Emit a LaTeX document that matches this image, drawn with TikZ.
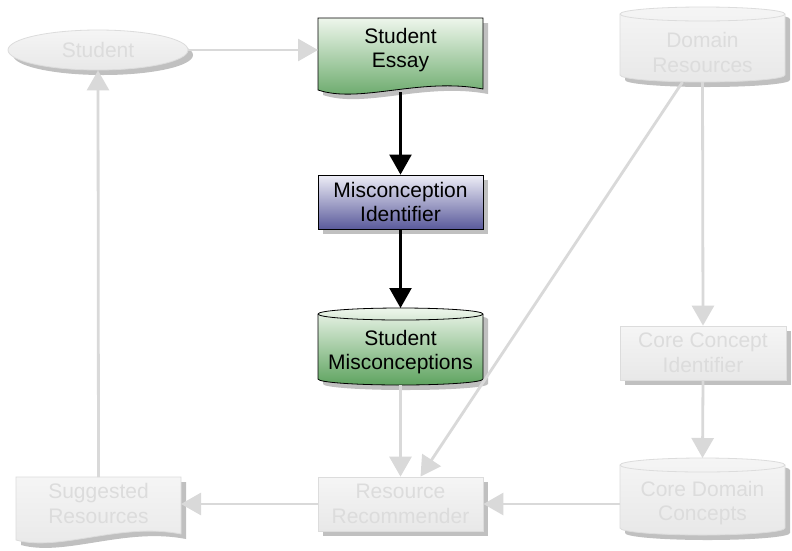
\documentclass[tikz,border=0pt]{standalone}
\usepackage{fontspec}
\setmainfont{Liberation Sans}
\usetikzlibrary{arrows.meta,shadows,calc,shapes.geometric}
\definecolor{gtop}{HTML}{EEF6EC}
\definecolor{gbot}{HTML}{5EA35F}
\definecolor{ptop}{HTML}{EEEEF7}
\definecolor{pbot}{HTML}{5A5A9B}
\definecolor{ftop}{HTML}{F5F5F5}
\definecolor{fbot}{HTML}{E8E8E8}
\definecolor{fline}{HTML}{DCDCDC}
\definecolor{ftext}{HTML}{DCDCDC}
\definecolor{shad}{HTML}{C0C0C0}
\definecolor{arr}{HTML}{D9D9D9}
% cylinder outline: L T R B r
\newcommand\cylp[5]{(#1,#2+#5) -- (#1,#4-#5) .. controls (#1,#4-0.4477*#5) and ({(#1+#3)/2-0.27615*(#3-#1)},#4) .. ({(#1+#3)/2},#4) .. controls ({(#1+#3)/2+0.27615*(#3-#1)},#4) and (#3,#4-0.4477*#5) .. (#3,#4-#5) -- (#3,#2+#5) .. controls (#3,#2+0.4477*#5) and ({(#1+#3)/2+0.27615*(#3-#1)},#2) .. ({(#1+#3)/2},#2) .. controls ({(#1+#3)/2-0.27615*(#3-#1)},#2) and (#1,#2+0.4477*#5) .. (#1,#2+#5) -- cycle}
% front edge of the top cap
\newcommand\cylf[5]{(#1,#2+#5) .. controls (#1,#2+1.5523*#5) and ({(#1+#3)/2-0.27615*(#3-#1)},#2+2*#5) .. ({(#1+#3)/2},#2+2*#5) .. controls ({(#1+#3)/2+0.27615*(#3-#1)},#2+2*#5) and (#3,#2+1.5523*#5) .. (#3,#2+#5)}
\begin{document}
\begin{tikzpicture}[x=1pt,y=-1pt,
  box/.style={rectangle, draw=none, inner sep=0pt, outer sep=0pt},
  txt/.style={font=\fontsize{21}{24.5}\selectfont, align=center, inner sep=0pt},
  faded/.style={top color=ftop, bottom color=fbot, draw=fline, line width=0.8pt},
  greenf/.style={top color=gtop, bottom color=gbot, draw=black, line width=0.8pt},
  purplef/.style={top color=ptop, bottom color=pbot, draw=black, line width=0.8pt},
  shadowed/.style={drop shadow={shadow xshift=5pt, shadow yshift=-5pt, fill=shad, opacity=1, draw=none}},
  garrow/.style={draw=arr, line width=2.8pt, -{Triangle[length=20pt,width=22pt]}},
  barrow/.style={draw=black, line width=2.2pt, -{Triangle[length=20pt,width=22pt]}}]
\fill[white] (0,0) rectangle (792,550);
\useasboundingbox (0,0) rectangle (792,550);

% Student (ellipse)
\node[ellipse, faded, shadowed, minimum width=180pt, minimum height=40pt, txt, text=ftext] (student) at (98,50) {Student};

% Student Essay (document)
\fill[shad, shift={(5,5)}] (318,18) -- (483,18) -- (483,89) .. controls (420,77) and (360,104) .. (318,90) -- cycle;
\path[greenf] (318,18) -- (483,18) -- (483,89) .. controls (420,77) and (360,104) .. (318,90) -- cycle;
\node[box, minimum width=165pt, minimum height=74pt] (ess) at (400.5,55) {};
\node[txt] (esst) at (400.5,50) {Student\\Essay};

% Misconception Identifier
\node[rectangle, purplef, shadowed, minimum width=165pt, minimum height=54pt, txt] (mi) at (400.5,202) {Misconception\\Identifier};

% Student Misconceptions (cylinder)
\fill[shad, shift={(5,5)}] \cylp{318}{308}{483}{385}{6};
\path[greenf] \cylp{318}{308}{483}{385}{6};
\draw[black, line width=0.8pt] \cylf{318}{308}{483}{385}{6};
\node[box, minimum width=165pt, minimum height=77pt] (sm) at (400.5,346.5) {};
\node[txt] (smt) at (400.5,352) {Student\\Misconceptions};

% Domain Resources (cylinder)
\fill[shad, shift={(5,5)}] \cylp{620}{7}{785}{82}{7};
\path[faded] \cylp{620}{7}{785}{82}{7};
\draw[fline, line width=0.8pt] \cylf{620}{7}{785}{82}{7};
\node[box, minimum width=165pt, minimum height=75pt] (dr) at (702.5,44.5) {};
\node[txt, text=ftext] (drt) at (702.5,52.5) {Domain\\Resources};

% Core Concept Identifier
\node[rectangle, faded, shadowed, minimum width=166pt, minimum height=54pt, txt, text=ftext] (cci) at (703,353) {Core Concept\\Identifier};

% Core Domain Concepts (cylinder)
\fill[shad, shift={(5,5)}] \cylp{620}{458}{785}{535}{7};
\path[faded] \cylp{620}{458}{785}{535}{7};
\draw[fline, line width=0.8pt] \cylf{620}{458}{785}{535}{7};
\node[box, minimum width=165pt, minimum height=77pt] (cdc) at (702.5,496.5) {};
\node[txt, text=ftext] (cdct) at (702.5,503) {Core Domain\\Concepts};

% Resource Recommender
\node[rectangle, faded, shadowed, minimum width=165pt, minimum height=54pt, txt, text=ftext] (rr) at (400.5,504) {Resource\\Recommender};

% Suggested Resources (document)
\fill[shad, shift={(5,5)}] (16,477) -- (181,477) -- (181,534) .. controls (120,522) and (60,552) .. (16,540) -- cycle;
\path[faded] (16,477) -- (181,477) -- (181,534) .. controls (120,522) and (60,552) .. (16,540) -- cycle;
\node[box, minimum width=165pt, minimum height=66pt] (sr) at (98.5,510) {};
\node[txt, text=ftext] (srt) at (98.5,503.5) {Suggested\\Resources};

% connectors
\draw[garrow] (student.east) -- (student.east -| ess.west);
\draw[barrow] (ess.south) -- (mi.north);
\draw[barrow] (mi.south) -- (sm.north);
\draw[garrow] (sm.south) -- (rr.north);
\draw[garrow] ($(dr.south)+(-20,0)$) -- ($(rr.north)+(20,0)$);
\draw[garrow] (dr.south) -- (cci.north);
\draw[garrow] (cci.south) -- (cdc.north);
\draw[garrow] (rr.east -| cdc.west) -- (rr.east);
\draw[garrow] (rr.west) -- (rr.west -| sr.east);
\draw[garrow] (sr.north) -- (student.south);
\end{tikzpicture}
\end{document}
